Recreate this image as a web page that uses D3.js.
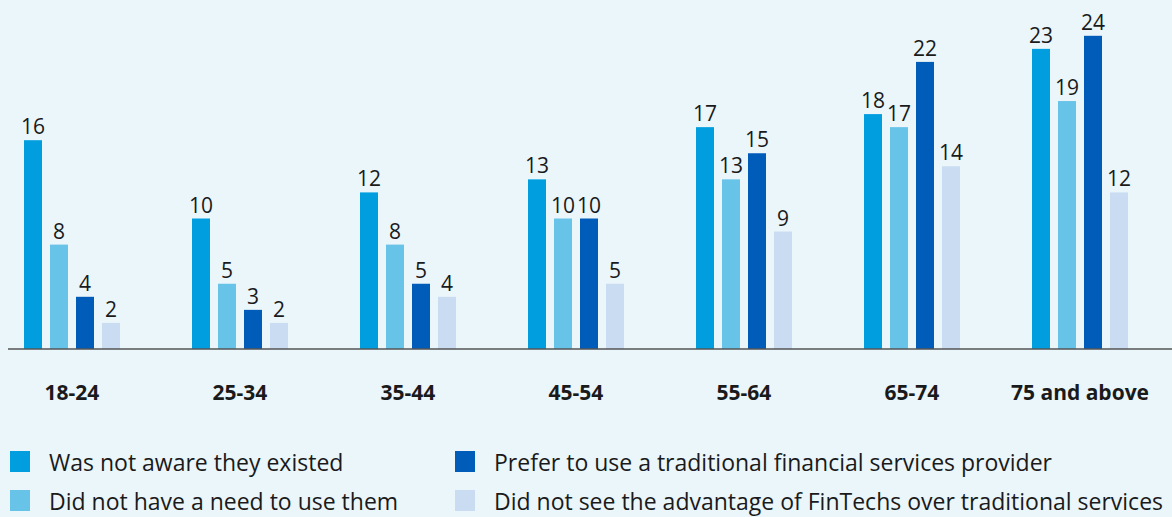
<!DOCTYPE html>
<html>
<head>
<meta charset="utf-8">
<script src="https://cdn.jsdelivr.net/npm/d3@7"></script>
<style>
  html, body { margin: 0; padding: 0; background: #ebf6fb; }
  svg text { font-family: "Open Sans", "Noto Sans", sans-serif; fill: #1a1a1a; }
</style>
</head>
<body>
<div id="chart"></div>
<script>
// age groups and answers
var categories = ['18-24', '25-34', '35-44', '45-54', '55-64', '65-74', '75 and above'];
var seriesNames = [
    'Was not aware they existed',
    'Did not have a need to use them',
    'Prefer to use a traditional financial services provider',
    'Did not see the advantage of FinTechs over traditional services'
];
var notAware = [16, 10, 12, 13, 17, 18, 23];
var noNeed = [8, 5, 8, 10, 13, 17, 19];
var preferTraditional = [4, 3, 5, 10, 15, 22, 24];
var noAdvantage = [2, 2, 4, 5, 9, 14, 12];
var colors = ['#009ede', '#68c3e9', '#005cb9', '#cadcf1'];

(function (d3) {
    'use strict';

    var W = 1172, H = 517;
    var values = [notAware, noNeed, preferTraditional, noAdvantage];

    var svg = d3.select('#chart').append('svg')
        .attr('width', W)
        .attr('height', H);

    svg.append('rect').attr('width', W).attr('height', H).attr('fill', '#ebf6fb');

    var x0 = d3.scaleBand()
        .domain(categories)
        .range([24, 1128])
        .paddingInner(72 / 168)
        .paddingOuter(0);

    var x1 = d3.scaleBand()
        .domain(d3.range(seriesNames.length))
        .range([0, x0.bandwidth()])
        .paddingInner(8 / 26)
        .paddingOuter(0);

    var y = d3.scaleLinear()
        .domain([0, 24])
        .range([349, 349 - 24 * 13.05]);

    var rows = [];
    categories.forEach(function (c, i) {
        values.forEach(function (arr, s) {
            rows.push({cat: c, s: s, v: arr[i]});
        });
    });

    svg.append('g').selectAll('rect')
        .data(rows)
        .join('rect')
        .attr('x', function (d) { return x0(d.cat) + x1(d.s); })
        .attr('y', function (d) { return y(d.v); })
        .attr('width', x1.bandwidth())
        .attr('height', function (d) { return y(0) - y(d.v); })
        .attr('fill', function (d) { return colors[d.s]; });

    svg.append('g').selectAll('text')
        .data(rows)
        .join('text')
        .attr('x', function (d) { return x0(d.cat) + x1(d.s) + x1.bandwidth() / 2; })
        .attr('y', function (d) { return y(d.v) - 6; })
        .attr('text-anchor', 'middle')
        .style('font-size', '21px')
        .text(function (d) { return d.v; });

    // baseline
    svg.append('line')
        .attr('x1', 8).attr('x2', W)
        .attr('y1', y(0)).attr('y2', y(0))
        .attr('stroke', '#555')
        .attr('stroke-width', 1.5);

    // category labels
    svg.append('g').selectAll('text')
        .data(categories)
        .join('text')
        .attr('x', function (c) { return x0(c) + x0.bandwidth() / 2; })
        .attr('y', 400)
        .attr('text-anchor', 'middle')
        .style('font-size', '21px')
        .style('font-weight', 'bold')
        .text(function (c) { return c; });

    // legend, two columns
    var legend = svg.append('g').selectAll('g')
        .data(seriesNames)
        .join('g')
        .attr('transform', function (d, i) {
            var col = i < 2 ? 0 : 1, row = i % 2;
            return 'translate(' + (col ? 455 : 10) + ',' + (451 + row * 39) + ')';
        });

    legend.append('rect')
        .attr('width', 20).attr('height', 21)
        .attr('fill', function (d, i) { return colors[i]; });

    legend.append('text')
        .attr('x', 39)
        .attr('y', 20)
        .style('font-size', '23px')
        .text(function (d) { return d; });
}(window.d3));
</script>
</body>
</html>
